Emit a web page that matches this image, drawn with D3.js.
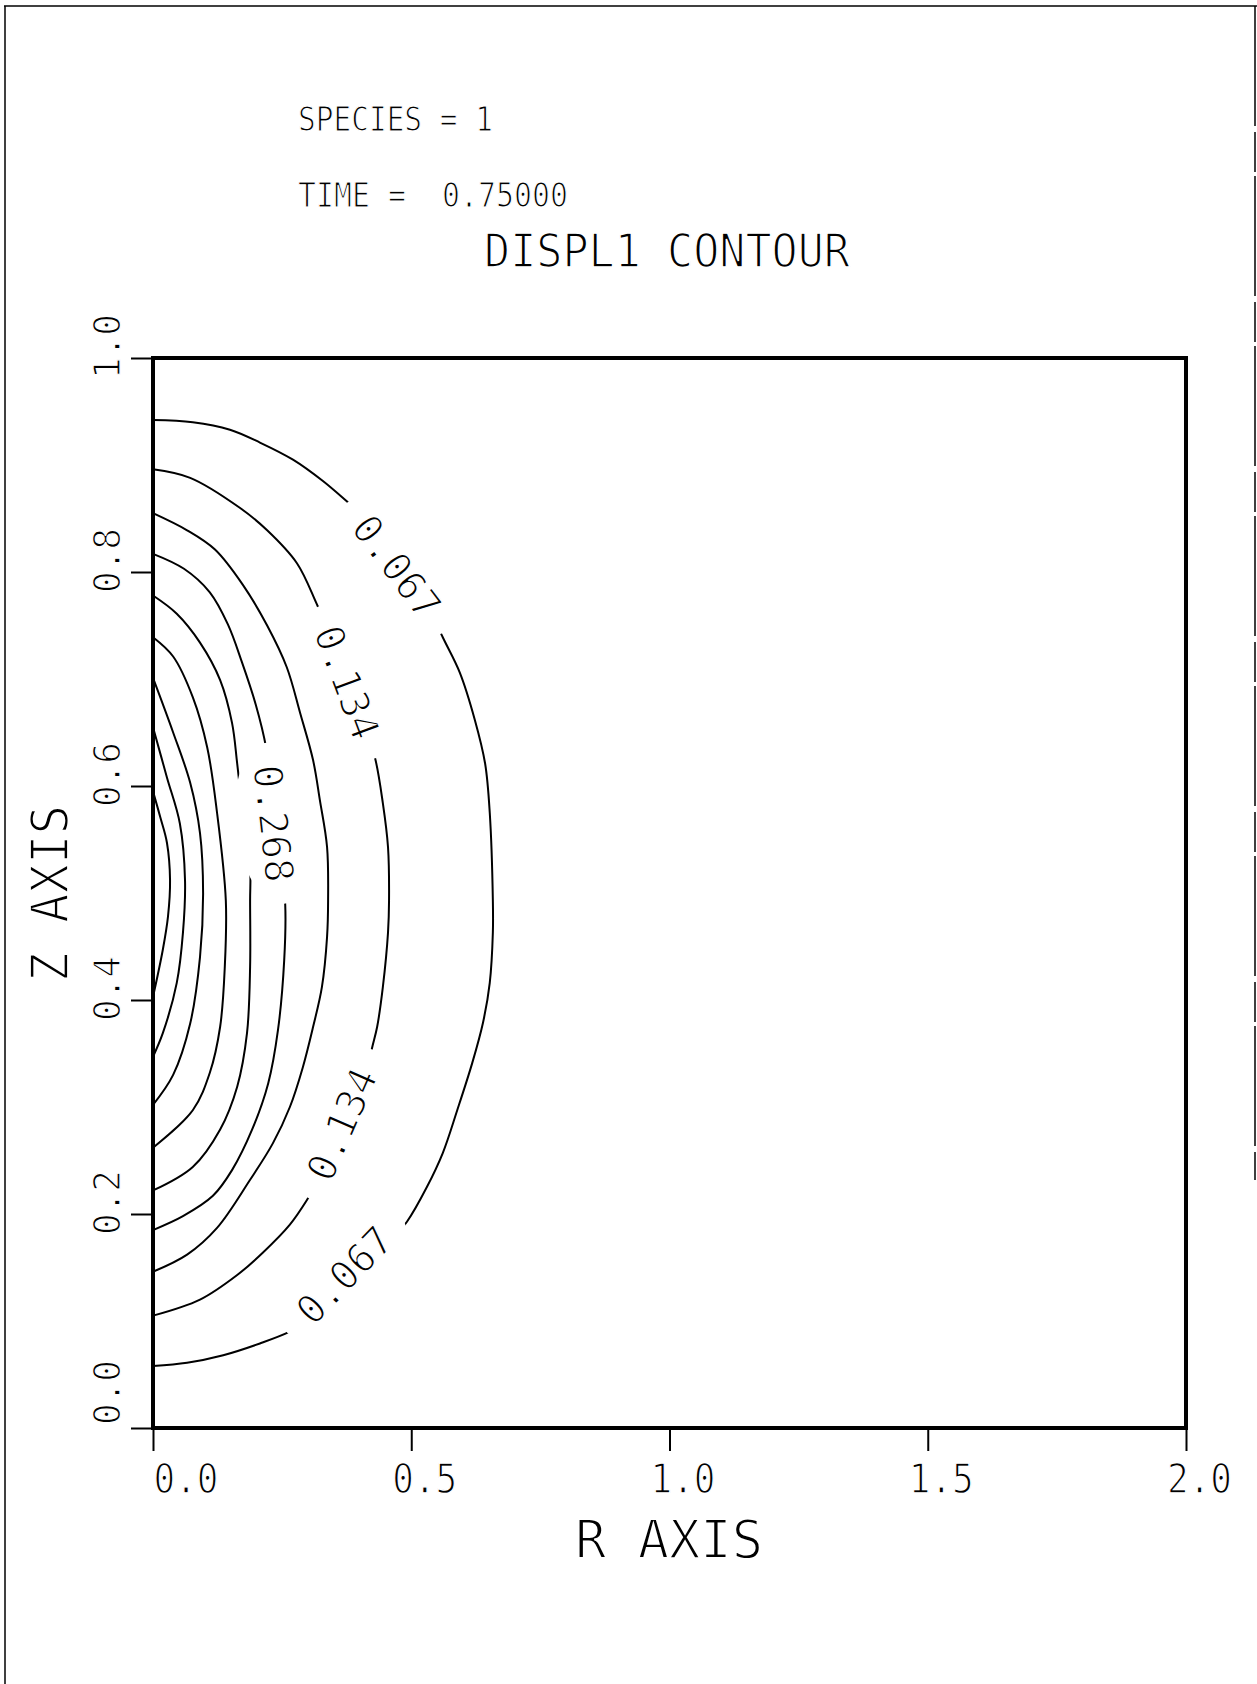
<!DOCTYPE html>
<html>
<head>
<meta charset="utf-8">
<script src="https://cdn.jsdelivr.net/npm/d3@7"></script>
<style>
  html, body { margin: 0; padding: 0; background: #fff; }
  svg { display: block; }
  text { font-family: "DejaVu Sans Mono", "Liberation Mono", monospace; fill: #000; stroke: #fff; stroke-width: 1.2px; }
</style>
</head>
<body>
<div id="chart"></div>
<script>
// contour levels (only some are labelled)
const levels = [0.067, 0.134, 0.201, 0.268, 0.335, 0.402, 0.469, 0.536, 0.603];

// contour lines, [r, z], from the top crossing of r=0 round to the bottom one
const c0067 = [[0,0.942],[0.077,0.940],[0.149,0.933],[0.207,0.921],[0.271,0.905],[0.329,0.885],[0.385,0.862],
  [0.434,0.842],[0.484,0.809],[0.527,0.774],[0.561,0.739],[0.594,0.706],[0.623,0.662],[0.643,0.621],[0.652,0.575],
  [0.658,0.493],[0.658,0.463],[0.652,0.416],[0.639,0.379],[0.618,0.341],[0.589,0.297],[0.561,0.257],[0.530,0.225],
  [0.492,0.193],[0.449,0.168],[0.391,0.136],[0.327,0.107],[0.265,0.090],[0.207,0.079],[0.136,0.068],[0.066,0.061],[0,0.058]];
const c0134 = [[0,0.896],[0.072,0.888],[0.168,0.860],[0.221,0.839],[0.279,0.808],[0.319,0.768],[0.358,0.727],
  [0.385,0.687],[0.410,0.655],[0.430,0.626],[0.445,0.584],[0.455,0.543],[0.457,0.493],[0.455,0.463],[0.445,0.412],
  [0.434,0.375],[0.424,0.355],[0.405,0.316],[0.372,0.281],[0.337,0.246],[0.298,0.213],[0.265,0.190],[0.213,0.164],
  [0.163,0.143],[0.091,0.120],[0,0.105]];
const c0201 = [[0,0.855],[0.066,0.839],[0.120,0.821],[0.174,0.788],[0.221,0.750],[0.259,0.711],[0.285,0.668],
  [0.310,0.624],[0.323,0.587],[0.337,0.543],[0.339,0.493],[0.337,0.459],[0.327,0.412],[0.310,0.375],[0.290,0.337],
  [0.265,0.300],[0.232,0.266],[0.188,0.232],[0.124,0.187],[0.066,0.162],[0,0.146]];
const c0268 = [[0,0.817],[0.060,0.803],[0.110,0.781],[0.145,0.751],[0.172,0.716],[0.199,0.676],[0.219,0.636],
  [0.232,0.587],[0.246,0.536],[0.256,0.489],[0.254,0.437],[0.242,0.372],[0.223,0.322],[0.192,0.279],[0.153,0.241],
  [0.116,0.217],[0.058,0.198],[0,0.185]];
const c0335 = [[0,0.778],[0.046,0.761],[0.091,0.734],[0.130,0.699],[0.153,0.659],[0.163,0.621],[0.174,0.573],
  [0.188,0.524],[0.188,0.493],[0.188,0.431],[0.182,0.369],[0.163,0.319],[0.130,0.279],[0.077,0.244],[0,0.222]];
const c0402 = [[0,0.739],[0.039,0.721],[0.077,0.683],[0.105,0.636],[0.124,0.575],[0.141,0.493],[0.139,0.431],
  [0.130,0.375],[0.110,0.332],[0.077,0.297],[0,0.262]];
const c0469 = [[0,0.701],[0.039,0.650],[0.072,0.603],[0.091,0.556],[0.097,0.500],[0.091,0.440],[0.072,0.378],
  [0.039,0.330],[0,0.302]];
const c0536 = [[0,0.655],[0.027,0.608],[0.052,0.565],[0.062,0.512],[0.058,0.463],[0.046,0.416],[0.019,0.369],[0,0.347]];
const c0603 = [[0,0.595],[0.014,0.571],[0.027,0.547],[0.033,0.512],[0.029,0.478],[0.019,0.447],[0,0.403]];
const contours = [c0067, c0134, c0201, c0268, c0335, c0402, c0469, c0536, c0603];

// labels on the contours: value, place [r, z] and slant in degrees
const labelValues = ['0.067', '0.134', '0.268', '0.134', '0.067'];
const labelPoints = [[0.472,0.805],[0.376,0.697],[0.234,0.565],[0.365,0.284],[0.370,0.143]];
const labelAngles = [52.9, 69.6, 83.6, -66.2, -45.7];

const xTicks = [0.0, 0.5, 1.0, 1.5, 2.0];
const yTicks = [0.0, 0.2, 0.4, 0.6, 0.8, 1.0];

const W = 1257, H = 1684;
const svg = d3.select('#chart').append('svg')
    .attr('width', W)
    .attr('height', H);

let x = d3.scaleLinear().domain([0, 2]).range([153, 1186]);
let y = d3.scaleLinear().domain([0, 1]).range([1428, 358]);

// faint page frame
let frame = svg.append('g').attr('stroke', '#000').attr('stroke-width', 1.5);
frame.append('line').attr('x1', 4).attr('y1', 6).attr('x2', W).attr('y2', 6);
frame.append('line').attr('x1', 5).attr('y1', 6).attr('x2', 5).attr('y2', H);
frame.append('line').attr('x1', 1255).attr('y1', 6).attr('x2', 1255).attr('y2', 1180)
    .attr('stroke-dasharray', '120 6 40 4');

// header texts
svg.append('text').attr('x', 298).attr('y', 131).attr('font-size', 33)
    .attr('textLength', 195).attr('lengthAdjust', 'spacingAndGlyphs')
    .text('SPECIES = 1');
svg.append('text').attr('x', 298).attr('y', 207).attr('font-size', 33)
    .attr('xml:space', 'preserve').style('white-space', 'pre')
    .attr('textLength', 270).attr('lengthAdjust', 'spacingAndGlyphs')
    .text('TIME =  0.75000');
svg.append('text').attr('x', 484).attr('y', 267).attr('font-size', 47)
    .style('stroke-width', '1.6px')
    .attr('textLength', 366).attr('lengthAdjust', 'spacingAndGlyphs')
    .text('DISPL1 CONTOUR');

// gaps round the labels
let defs = svg.append('defs');
let mask = defs.append('mask').attr('id', 'labelGaps')
    .attr('maskUnits', 'userSpaceOnUse')
    .attr('x', 0).attr('y', 0).attr('width', W).attr('height', H);
mask.append('rect').attr('width', W).attr('height', H).attr('fill', '#fff');
mask.selectAll('ellipse')
    .data(labelPoints)
    .join('ellipse')
    .attr('rx', 81).attr('ry', 38)
    .attr('transform', (d, i) => `translate(${x(d[0])},${y(d[1])}) rotate(${labelAngles[i]})`)
    .attr('fill', '#000');

// contour lines
let line = d3.line()
    .x(d => x(d[0]))
    .y(d => y(d[1]))
    .curve(d3.curveCatmullRom.alpha(0.5));
svg.append('g')
    .attr('mask', 'url(#labelGaps)')
    .selectAll('path')
    .data(contours)
    .join('path')
    .attr('class', (d, i) => 'level-' + levels[i])
    .attr('d', line)
    .attr('fill', 'none')
    .attr('stroke', '#000')
    .attr('stroke-width', 2)
    .attr('stroke-linejoin', 'round');

// contour labels
svg.append('g')
    .selectAll('text')
    .data(labelPoints)
    .join('text')
    .attr('transform', (d, i) => `translate(${x(d[0])},${y(d[1])}) rotate(${labelAngles[i]})`)
    .attr('text-anchor', 'middle')
    .attr('dy', '0.36em')
    .attr('font-size', 40)
    .style('stroke-width', '1.4px')
    .attr('textLength', 118)
    .attr('lengthAdjust', 'spacingAndGlyphs')
    .text((d, i) => labelValues[i]);

// r axis
let xAxis = svg.append('g')
    .attr('transform', `translate(0,${y(0)})`)
    .call(d3.axisBottom(x).tickValues(xTicks).tickSize(23).tickFormat(d3.format('.1f')));
xAxis.select('.domain').remove();
xAxis.selectAll('line').attr('stroke', '#000').attr('stroke-width', 2);
xAxis.selectAll('text')
    .attr('font-family', '"DejaVu Sans Mono", monospace')
    .attr('font-size', 41)
    .attr('fill', '#000')
    .style('stroke-width', '1.4px')
    .attr('y', 65).attr('dy', 0)
    .attr('x', (d, i) => i === 0 ? 0 : 13)
    .attr('text-anchor', (d, i) => i === 0 ? 'start' : 'middle')
    .attr('textLength', 65)
    .attr('lengthAdjust', 'spacingAndGlyphs');

// z axis
let yAxis = svg.append('g')
    .attr('transform', `translate(${x(0)},0)`)
    .call(d3.axisLeft(y).tickValues(yTicks).tickSize(22).tickFormat(d3.format('.1f')));
yAxis.select('.domain').remove();
yAxis.selectAll('line').attr('stroke', '#000').attr('stroke-width', 2);
yAxis.selectAll('text')
    .attr('font-family', '"DejaVu Sans Mono", monospace')
    .attr('font-size', 38)
    .attr('fill', '#000')
    .style('stroke-width', '1.3px')
    .attr('x', 0).attr('y', 0).attr('dy', 0)
    .attr('transform', (d, i) => `translate(-33,${i === 0 ? -36 : -12}) rotate(-90)`)
    .attr('text-anchor', 'middle')
    .attr('textLength', 65)
    .attr('lengthAdjust', 'spacingAndGlyphs');

// plot box
svg.append('rect')
    .attr('x', x(0)).attr('y', y(1))
    .attr('width', x(2) - x(0)).attr('height', y(0) - y(1))
    .attr('fill', 'none')
    .attr('stroke', '#000')
    .attr('stroke-width', 4);

// axis titles
svg.append('text').attr('x', 575).attr('y', 1558).attr('font-size', 53)
    .style('stroke-width', '1.8px')
    .attr('textLength', 188).attr('lengthAdjust', 'spacingAndGlyphs')
    .text('R AXIS');
svg.append('text').attr('transform', 'translate(68,982) rotate(-90)')
    .attr('font-size', 51)
    .style('stroke-width', '1.8px')
    .attr('textLength', 177).attr('lengthAdjust', 'spacingAndGlyphs')
    .text('Z AXIS');
</script>
</body>
</html>
